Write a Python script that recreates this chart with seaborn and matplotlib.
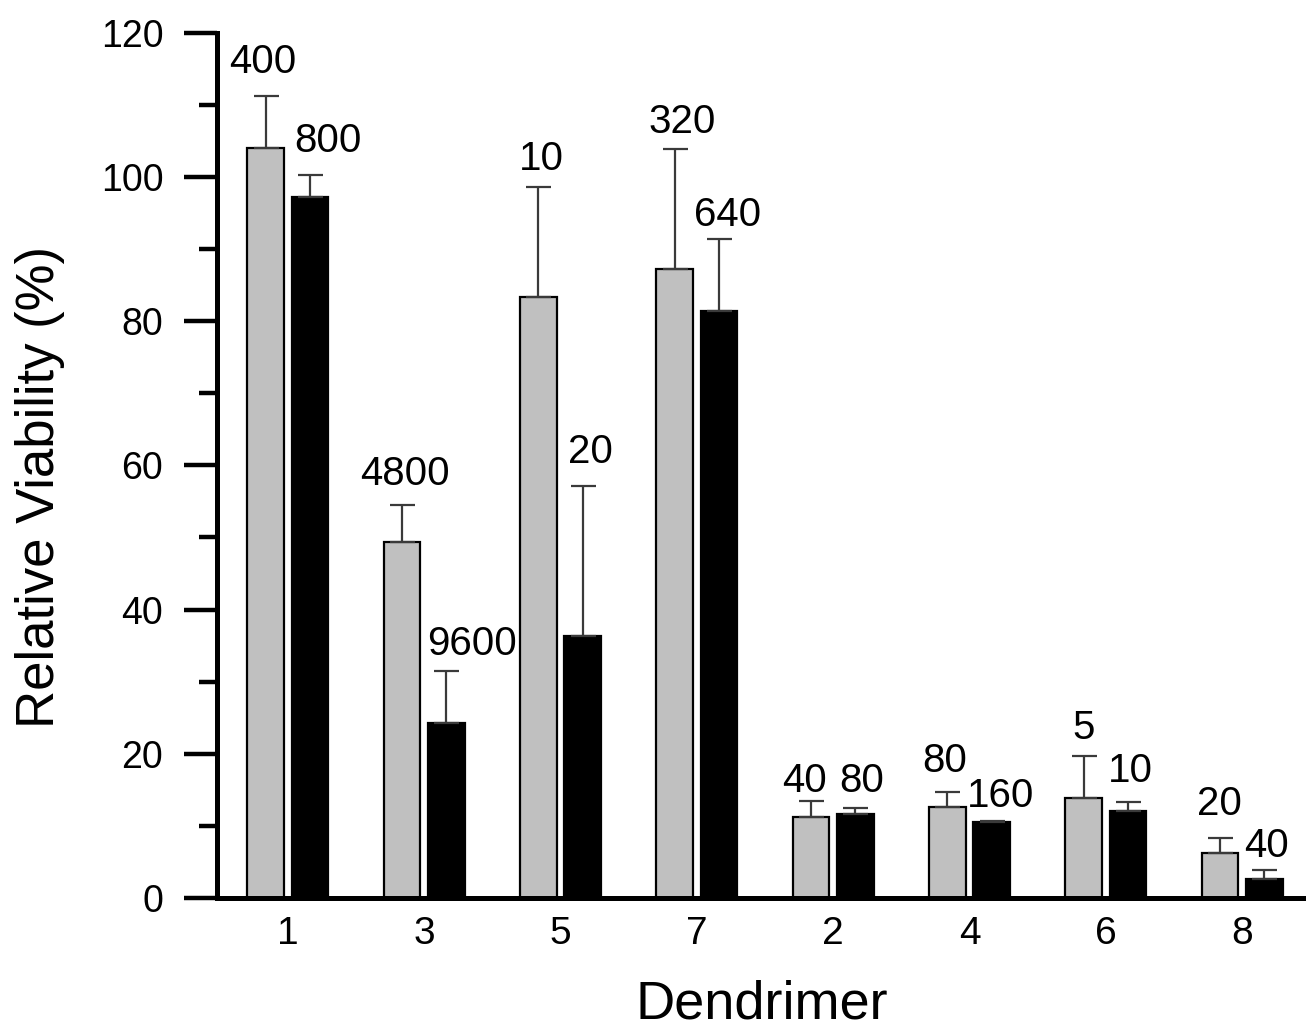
import matplotlib
matplotlib.use("Agg")
import matplotlib.pyplot as plt
import seaborn as sns
import pandas as pd
import numpy as np

# ---- data ----
dendrimers = ["1", "3", "5", "7", "2", "4", "6", "8"]
low_dose_viability = [104.0, 49.4, 83.4, 87.2, 11.2, 12.6, 13.9, 6.2]
low_dose_err = [7.2, 5.1, 15.2, 16.7, 2.3, 2.1, 5.8, 2.1]
high_dose_viability = [97.2, 24.3, 36.3, 81.4, 11.6, 10.5, 12.1, 2.6]
high_dose_err = [3.1, 7.2, 20.8, 10.0, 0.9, 0.15, 1.2, 1.3]
low_dose_labels = ["400", "4800", "10", "320", "40", "80", "5", "20"]
high_dose_labels = ["800", "9600", "20", "640", "80", "160", "10", "40"]
y_ticks = [0, 20, 40, 60, 80, 100, 120]

# ---- layout: label nudges (pixels: dx from bar centre, gap above error cap) ----
low_label_nudge = [(-3, 23), (3, 20), (3, 17), (7, 16), (-6, 9), (-3, 20), (0, 17), (0, 23)]
high_label_nudge = [(18, 23), (26, 16), (8, 23), (9, 13), (6, 16), (9, 14), (2, 20), (2, 13)]

df = pd.DataFrame({
    "Dendrimer": dendrimers * 2,
    "Viability": low_dose_viability + high_dose_viability,
    "Dose": ["low"] * len(dendrimers) + ["high"] * len(dendrimers),
})

sns.set_theme(style="ticks")
plt.rcParams["font.family"] = ["Liberation Sans", "DejaVu Sans"]

fig = plt.figure(figsize=(13.06, 10.30), dpi=100)
ax = fig.add_axes([0.1665, 0.1282, 0.8335, 0.8401])

sns.barplot(data=df, x="Dendrimer", y="Viability", hue="Dose",
            order=dendrimers, hue_order=["low", "high"],
            palette={"low": "#c0c0c0", "high": "#000000"},
            width=0.65, gap=0.17, errorbar=None, legend=False,
            edgecolor="black", linewidth=1.6, ax=ax)

err_lists = [low_dose_err, high_dose_err]
lab_lists = [low_dose_labels, high_dose_labels]
nudge_lists = [low_label_nudge, high_label_nudge]
px2pt = 72.0 / fig.dpi
for cont, errs, labs, nudges in zip(ax.containers, err_lists, lab_lists, nudge_lists):
    xs = [b.get_x() + b.get_width() / 2 for b in cont]
    hs = [b.get_height() for b in cont]
    ax.errorbar(xs, hs, yerr=[np.zeros(len(errs)), errs], fmt="none",
                ecolor="#3a3a3a", elinewidth=1.6, capsize=9, capthick=1.6,
                zorder=1)
    for x, h, e, lab, (ndx, ndy) in zip(xs, hs, errs, labs, nudges):
        ax.annotate(lab, xy=(x, h + e), xytext=(ndx * px2pt, ndy * px2pt),
                    textcoords="offset points", ha="center", va="baseline",
                    fontsize=29, color="black")

ax.set_ylim(0, 120)
ax.set_xlim(-0.517, 7.469)
ax.set_yticks(y_ticks)
ax.set_yticks(np.arange(10, 120, 20), minor=True)
ax.tick_params(axis="y", which="major", length=24, width=3.2, labelsize=27,
               pad=15, color="black", labelcolor="black")
ax.tick_params(axis="y", which="minor", length=13, width=3.2, color="black")
ax.tick_params(axis="x", length=0, labelsize=28, pad=13, labelcolor="black")

for s in ["top", "right"]:
    ax.spines[s].set_visible(False)
for s in ["left", "bottom"]:
    ax.spines[s].set_linewidth(3.6)
    ax.spines[s].set_color("black")

ax.set_xlabel("Dendrimer", fontsize=39, color="black", labelpad=20)
ax.set_ylabel("Relative Viability (%)", fontsize=38, color="black")
ax.yaxis.set_label_coords(-0.14, 0.475)

fig.savefig("out.png", dpi=100, facecolor="white")
